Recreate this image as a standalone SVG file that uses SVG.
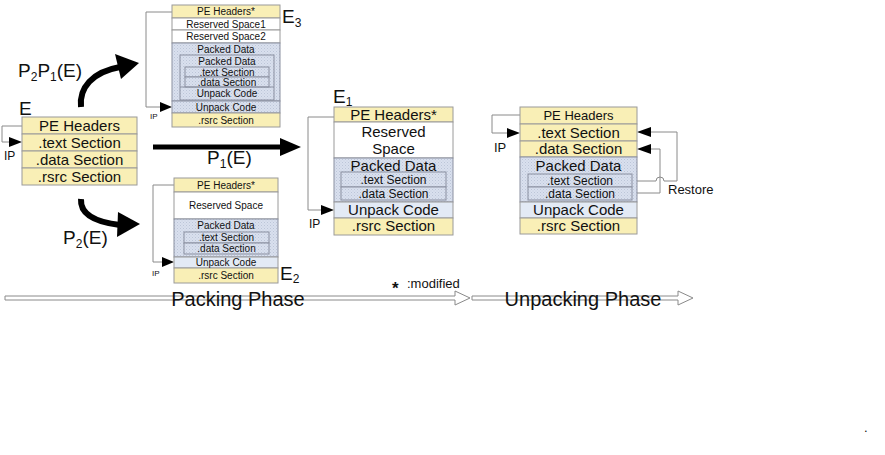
<svg xmlns="http://www.w3.org/2000/svg" width="885" height="455" viewBox="0 0 885 455">
<defs>
<pattern id="dots" width="3" height="3" patternUnits="userSpaceOnUse">
<rect width="3" height="3" fill="#d9e0ee"/>
<rect x="0" y="0" width="1" height="1" fill="#bcc5d8"/>
<rect x="1.5" y="1.5" width="1" height="1" fill="#c6cede"/>
</pattern>
</defs>
<style>
text{font-family:"Liberation Sans",Arial,sans-serif;fill:#111}
.y{fill:#f9efb6;stroke:#9a9a9a;stroke-width:1}
.w{fill:#fff;stroke:#9a9a9a;stroke-width:1}
.b{fill:url(#dots);stroke:#8a8fa0;stroke-width:1}
.lb{fill:#e3eaf5;stroke:#9a9a9a;stroke-width:1}
.ln{fill:none;stroke:#8a8a8a;stroke-width:1}
.c{text-anchor:middle}
.f10{font-size:10px}
.f12{font-size:12px}
.f13{font-size:13px}
.f15{font-size:15px}
.lbl{font-size:19px}
.hd{fill:#000}
.thick{fill:none;stroke:#000;stroke-width:6}
</style>

<g id="connectors">
<!-- P2P1(E) curved arrow -->
<path class="thick" d="M81,107 C79,88 92,72 120,67"/>
<polygon class="hd" points="139,63 115,54 121,79"/>
<!-- P2(E) curved arrow -->
<path class="thick" d="M81,199 C80,214 94,222 120,225"/>
<polygon class="hd" points="140,224 118,212 117,237"/>
<!-- P1(E) straight arrow -->
<line x1="153" y1="147" x2="284" y2="147" stroke="#000" stroke-width="5"/>
<polygon class="hd" points="301,147 280,138 280,156"/>
<!-- IP loops -->
<polyline class="ln" points="22,126 2,126 2,142 12,142"/>
<polygon class="hd" points="22,142 9,137 9,147"/>
<polyline class="ln" points="172,12 146,12 146,107 162,107"/>
<polygon class="hd" points="172,107 160,102 160,112"/>
<polyline class="ln" points="174,185 153,185 153,262 164,262"/>
<polygon class="hd" points="174,262 162,257 162,267"/>
<polyline class="ln" points="334,117 308,117 308,210 322,210"/>
<polygon class="hd" points="334,210 321,205 321,215"/>
<polyline class="ln" points="520,115 492,115 492,133 508,133"/>
<polygon class="hd" points="520,133 507,128 507,138"/>
<!-- Restore arrows -->
<path class="ln" d="M632,181 H656 A4,4 0 0 1 664,181 H677 V132 H648"/>
<polygon class="hd" points="637,132 651,127 651,137"/>
<path class="ln" d="M632,193 H660 V149 H648"/>
<polygon class="hd" points="637,149 651,144 651,154"/>
<!-- Phase arrows -->
<polygon points="5,296 455,296 455,291 470,298 455,305 455,300 5,300" fill="#fff" stroke="#8a8a8a"/>
<polygon points="472,296 678,296 678,291 693,298 678,305 678,300 472,300" fill="#fff" stroke="#8a8a8a"/>
</g>

<g id="labels">
<text x="18" y="77" font-size="19">P<tspan font-size="12" dy="4">2</tspan><tspan dy="-4">P</tspan><tspan font-size="12" dy="4">1</tspan><tspan dy="-4">(E)</tspan></text>
<text x="207" y="164" font-size="19">P<tspan font-size="12" dy="4">1</tspan><tspan dy="-4">(E)</tspan></text>
<text x="63" y="244" font-size="19">P<tspan font-size="12" dy="4">2</tspan><tspan dy="-4">(E)</tspan></text>
<text x="668" y="194" class="f13">Restore</text>
<text x="392" y="294" font-size="17" font-weight="bold">*</text>
<text x="407" y="288" class="f13">:modified</text>
<text x="238" y="306" class="c" font-size="20" fill="#222">Packing Phase</text>
<text x="583" y="306" class="c" font-size="20" fill="#222">Unpacking Phase</text>
<text x="864" y="432" class="f13">.</text>
</g>

<g id="node-E">
<text x="19" y="115" class="lbl">E</text>
<rect class="y" x="22" y="117" width="115" height="17"/>
<rect class="y" x="22" y="134" width="115" height="17"/>
<rect class="y" x="22" y="151" width="115" height="17"/>
<rect class="y" x="22" y="168" width="115" height="17"/>
<text x="79.5" y="131" class="c f15">PE Headers</text>
<text x="79.5" y="148" class="c f15">.text Section</text>
<text x="79.5" y="165" class="c f15">.data Section</text>
<text x="79.5" y="182" class="c f15">.rsrc Section</text>
<text x="4" y="160" class="f12">IP</text>
</g>

<g id="node-E3">
<rect class="y" x="172" y="5" width="108" height="13"/>
<rect class="w" x="172" y="18" width="108" height="12"/>
<rect class="w" x="172" y="30" width="108" height="13"/>
<rect class="b" x="172" y="43" width="108" height="58"/>
<rect class="b" x="180" y="55" width="94" height="45"/>
<rect class="b" x="185" y="67" width="84" height="10"/>
<rect class="b" x="185" y="77" width="84" height="10"/>
<line x1="180" y1="87" x2="274" y2="87" stroke="#8a8fa0"/>
<rect class="b" x="172" y="101" width="108" height="12"/>
<rect class="y" x="172" y="113" width="108" height="14"/>
<text x="226" y="15" class="c f10">PE Headers*</text>
<text x="226" y="27.5" class="c f10">Reserved Space1</text>
<text x="226" y="40" class="c f10">Reserved Space2</text>
<text x="226" y="53" class="c f10">Packed Data</text>
<text x="227" y="65" class="c f10">Packed Data</text>
<text x="227" y="75.5" class="c f10">.text Section</text>
<text x="227" y="85.5" class="c f10">.data Section</text>
<text x="227" y="97" class="c f10">Unpack Code</text>
<text x="226" y="110.5" class="c f10">Unpack Code</text>
<text x="226" y="124" class="c f10">.rsrc Section</text>
<text x="282" y="23" class="lbl">E<tspan font-size="12" dy="4">3</tspan></text>
<text x="150" y="119" font-size="8">IP</text>
</g>

<g id="node-E2">
<rect class="y" x="174" y="178" width="104" height="14"/>
<rect class="w" x="174" y="192" width="104" height="27"/>
<rect class="b" x="174" y="219" width="104" height="38"/>
<rect class="b" x="184" y="232" width="85" height="11"/>
<rect class="b" x="184" y="243" width="85" height="11"/>
<rect class="lb" x="174" y="257" width="104" height="11"/>
<rect class="y" x="174" y="268" width="104" height="15"/>
<text x="226" y="189" class="c f10">PE Headers*</text>
<text x="226" y="209" class="c f10">Reserved Space</text>
<text x="226" y="229" class="c f10">Packed Data</text>
<text x="226.5" y="241" class="c f10">.text Section</text>
<text x="226.5" y="252" class="c f10">.data Section</text>
<text x="226" y="266" class="c f10">Unpack Code</text>
<text x="226" y="279" class="c f10">.rsrc Section</text>
<text x="280" y="280" class="lbl">E<tspan font-size="12" dy="3">2</tspan></text>
<text x="152" y="276" font-size="8">IP</text>
</g>

<g id="node-E1">
<rect class="y" x="334" y="107" width="119" height="15"/>
<rect class="w" x="334" y="122" width="119" height="36"/>
<rect class="b" x="334" y="158" width="119" height="44"/>
<rect class="b" x="341" y="172" width="105" height="15"/>
<rect class="b" x="341" y="187" width="105" height="13"/>
<rect class="lb" x="334" y="202" width="119" height="16"/>
<rect class="y" x="334" y="218" width="119" height="17"/>
<text x="393.5" y="120" class="c f15">PE Headers*</text>
<text x="393.5" y="137" class="c f15">Reserved</text>
<text x="393.5" y="154" class="c f15">Space</text>
<text x="393.5" y="171" class="c f15">Packed Data</text>
<text x="393.5" y="184" class="c f12">.text Section</text>
<text x="393.5" y="198" class="c f12">.data Section</text>
<text x="393.5" y="215" class="c f15">Unpack Code</text>
<text x="393.5" y="231" class="c f15">.rsrc Section</text>
<text x="333" y="103" class="lbl">E<tspan font-size="12" dy="3">1</tspan></text>
<text x="309" y="228" class="f12">IP</text>
</g>

<g id="node-unpacked">
<rect class="y" x="520" y="107" width="117" height="17"/>
<rect class="y" x="520" y="124" width="117" height="17"/>
<rect class="y" x="520" y="141" width="117" height="16"/>
<rect class="b" x="520" y="157" width="117" height="45"/>
<rect class="b" x="528" y="174" width="104" height="13"/>
<rect class="b" x="528" y="187" width="104" height="13"/>
<rect class="lb" x="520" y="202" width="117" height="16"/>
<rect class="y" x="520" y="218" width="117" height="16"/>
<text x="578.5" y="120" class="c f13">PE Headers</text>
<text x="578.5" y="138" class="c f15">.text Section</text>
<text x="578.5" y="154" class="c f15">.data Section</text>
<text x="578.5" y="171" class="c f15">Packed Data</text>
<text x="580" y="185" class="c f12">.text Section</text>
<text x="580" y="198" class="c f12">.data Section</text>
<text x="578.5" y="215" class="c f15">Unpack Code</text>
<text x="578.5" y="231" class="c f15">.rsrc Section</text>
<text x="494" y="152" class="f13">IP</text>
</g>
</svg>
